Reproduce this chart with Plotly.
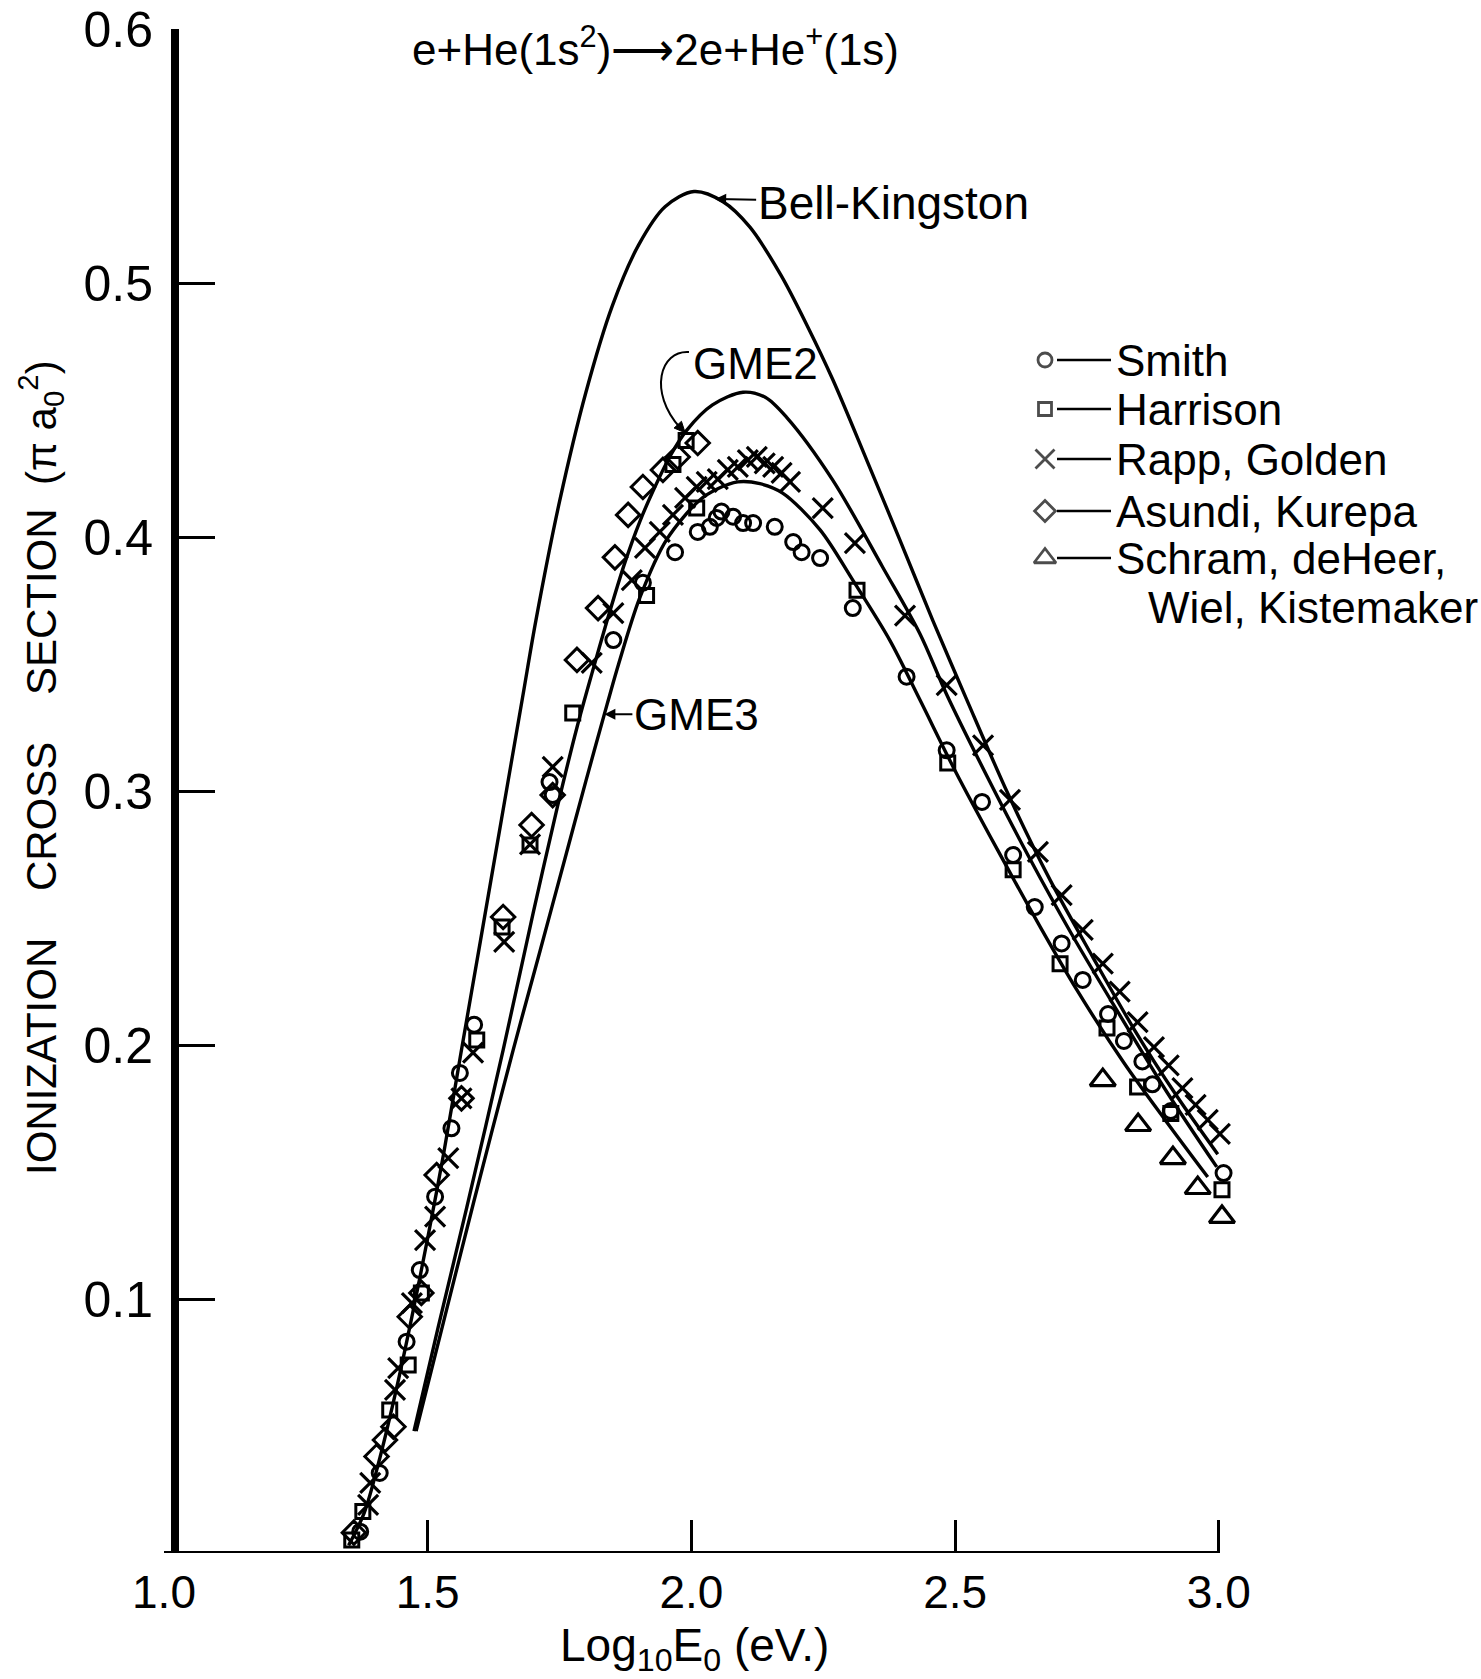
import numpy as np
import plotly.graph_objects as go

# ---------------- theory curves (log10 E0, cross section in pi a0^2) ----------------
bk_x = [1.350, 1.380, 1.410, 1.440, 1.470, 1.500, 1.530, 1.564, 1.600, 1.640, 1.680, 1.705,
        1.750, 1.800, 1.850, 1.900, 1.950, 2.005, 2.060, 2.111, 2.170, 2.220, 2.268, 2.333,
        2.395, 2.458, 2.522, 2.600, 2.680, 2.760, 2.840, 2.920, 2.998]
bk_y = [0.003, 0.016, 0.038, 0.064, 0.093, 0.124, 0.157, 0.198, 0.241, 0.289, 0.337, 0.367,
        0.414, 0.457, 0.491, 0.515, 0.530, 0.536, 0.532, 0.522, 0.503, 0.483, 0.462, 0.430,
        0.399, 0.367, 0.336, 0.299, 0.265, 0.235, 0.206, 0.180, 0.157]

gme2_x = [1.474, 1.520, 1.574, 1.643, 1.700, 1.745, 1.783, 1.811, 1.840, 1.874, 1.902, 1.927,
          1.960, 1.991, 2.040, 2.098, 2.140, 2.181, 2.268, 2.363, 2.433, 2.484, 2.560, 2.640,
          2.720, 2.800, 2.900, 2.996]
gme2_y = [0.048, 0.089, 0.136, 0.198, 0.252, 0.293, 0.325, 0.346, 0.367, 0.390, 0.406, 0.418,
          0.432, 0.442, 0.452, 0.457, 0.455, 0.447, 0.4224, 0.388, 0.362, 0.338, 0.306, 0.274,
          0.244, 0.216, 0.182, 0.152]

gme3_x = [1.478, 1.530, 1.587, 1.662, 1.713, 1.763, 1.800, 1.840, 1.862, 1.902, 1.953, 2.016,
          2.050, 2.088, 2.130, 2.173, 2.244, 2.306, 2.376, 2.433, 2.500, 2.580, 2.660, 2.730,
          2.820, 2.900, 2.979]
gme3_y = [0.048, 0.091, 0.138, 0.198, 0.237, 0.2755, 0.304, 0.334, 0.350, 0.376, 0.399, 0.4146,
          0.419, 0.4217, 0.421, 0.4173, 0.4028, 0.383, 0.3594, 0.336, 0.308, 0.277, 0.247, 0.222,
          0.193, 0.170, 0.148]

# ---------------- experimental data ----------------
smith_x = [1.372, 1.409, 1.460, 1.485, 1.514, 1.545, 1.561, 1.588, 1.731, 1.737, 1.852, 1.908,
           1.969, 2.012, 2.035, 2.048, 2.057, 2.079, 2.098, 2.117, 2.158, 2.193, 2.209, 2.244,
           2.306, 2.408, 2.484, 2.551, 2.610, 2.651, 2.702, 2.742, 2.790, 2.820, 2.855, 2.874,
           2.909, 3.009]
smith_y = [0.0084, 0.0315, 0.0832, 0.1114, 0.1403, 0.1672, 0.189, 0.208, 0.3035, 0.2984, 0.3594, 0.382,
           0.394, 0.402, 0.404, 0.4075, 0.410, 0.408, 0.4055, 0.4055, 0.404, 0.398, 0.394, 0.3917,
           0.372, 0.345, 0.316, 0.2957, 0.2748, 0.2543, 0.240, 0.2256, 0.2122, 0.2016, 0.1935, 0.1845,
           0.1740, 0.1496]

harrison_x = [1.356, 1.377, 1.428, 1.463, 1.488, 1.593, 1.641, 1.694, 1.775, 1.915, 1.965, 1.990,
              2.010, 2.314, 2.486, 2.610, 2.699, 2.788, 2.846, 2.909, 3.006]
harrison_y = [0.0051, 0.0163, 0.0563, 0.074, 0.1024, 0.202, 0.2465, 0.2787, 0.3307, 0.377, 0.4285, 0.438,
              0.4114, 0.379, 0.311, 0.269, 0.232, 0.2067, 0.1835, 0.173, 0.143]

rapp_x = [1.387, 1.391, 1.438, 1.444, 1.470, 1.495, 1.514, 1.539, 1.564, 1.586, 1.645, 1.694,
          1.737, 1.811, 1.852, 1.887, 1.912, 1.940, 1.965, 1.988, 2.010, 2.029, 2.050, 2.069,
          2.088, 2.107, 2.124, 2.139, 2.155, 2.171, 2.187, 2.249, 2.310, 2.405, 2.484, 2.553,
          2.604, 2.657, 2.702, 2.742, 2.780, 2.812, 2.846, 2.877, 2.905, 2.931, 2.956, 2.979, 3.002]
rapp_y = [0.0189, 0.0276, 0.0642, 0.0728, 0.0984, 0.1232, 0.1324, 0.1555, 0.179, 0.197, 0.2406, 0.279,
          0.3095, 0.3504, 0.370, 0.383, 0.3957, 0.402, 0.4087, 0.4154, 0.4197, 0.4217, 0.4228, 0.4264,
          0.4276, 0.4303, 0.4315, 0.429, 0.4276, 0.4252, 0.4217, 0.4114, 0.3976, 0.369, 0.3417, 0.318,
          0.2965, 0.276, 0.259, 0.2453, 0.232, 0.221, 0.209, 0.1992, 0.192, 0.183, 0.1764, 0.1705, 0.165]

asundi_x = [1.360, 1.403, 1.419, 1.435, 1.466, 1.488, 1.517, 1.564, 1.643, 1.697, 1.737, 1.783,
            1.823, 1.855, 1.880, 1.908, 1.946, 1.974, 2.012]
asundi_y = [0.008, 0.038, 0.0445, 0.0497, 0.093, 0.1024, 0.1488, 0.179, 0.2504, 0.2866, 0.2984, 0.3516,
            0.372, 0.392, 0.4087, 0.4197, 0.4264, 0.4315, 0.437]

schram_x = [2.780, 2.847, 2.913, 2.960, 3.006]
schram_y = [0.1862, 0.1685, 0.1555, 0.1437, 0.1323]

x_ticks = [1.0, 1.5, 2.0, 2.5, 3.0]
x_ticktext = ["1.0", "1.5", "2.0", "2.5", "3.0"]
y_ticks = [0.1, 0.2, 0.3, 0.4, 0.5, 0.6]
y_ticktext = ["0.1", "0.2", "0.3", "0.4", "0.5", "0.6"]

legend_names = ["Smith", "Harrison", "Rapp, Golden", "Asundi, Kurepa", "Schram, deHeer,"]
legend_symbols = ["circle-open", "square-open", "x-thin-open", "diamond-open", "triangle-up-open"]

# ---------------- layout geometry (pixels) ----------------
W, H = 1481, 1679
X0, X1 = 1.0, 3.025          # axis range (3.0 sits at pixel 1219)
Y0, Y1 = 0.0, 0.6
PXU = 527.5                  # pixels per x unit
L, T, B = 164, 29, 126
R = int(round(W - (L + (X1 - X0) * PXU)))
PW, PH = W - L - R, H - T - B
FONT = "Liberation Sans, Arial, sans-serif"
INK = "black"


def px(xp):
    return (xp - L) / PW


def py(yp):
    return (H - B - yp) / PH


fig = go.Figure()

for cx, cy in [(bk_x, bk_y), (gme2_x, gme2_y), (gme3_x, gme3_y)]:
    fig.add_trace(go.Scatter(x=cx, y=cy, mode="lines",
                             line=dict(color=INK, width=3.4, shape="spline", smoothing=0.9),
                             showlegend=False, hoverinfo="skip", cliponaxis=False))


def add_pts(xs, ys, sym, size, lw):
    fig.add_trace(go.Scatter(x=xs, y=ys, mode="markers", showlegend=False, cliponaxis=False,
                             marker=dict(symbol=sym, size=size, color=INK,
                                         line=dict(color=INK, width=lw))))


add_pts(smith_x, smith_y, "circle-open", 15, 3.0)
add_pts(harrison_x, harrison_y, "square-open", 14, 3.0)
add_pts(rapp_x, rapp_y, "x-thin-open", 20, 3.2)
add_pts(asundi_x, asundi_y, "diamond-open", 18, 3.0)
add_pts(schram_x, schram_y, "triangle-up-open", 22, 3.2)

# legend samples drawn in a pixel-space overlay axis
leg_mx = 1045
leg_rows = [360, 409, 459, 511, 558]
fig.add_trace(go.Scatter(x=[leg_mx] * 5, y=leg_rows, xaxis="x2", yaxis="y2", mode="markers",
                         showlegend=False, cliponaxis=False,
                         marker=dict(symbol=legend_symbols, size=[14, 13, 19, 16, 19], color=INK,
                                     line=dict(color=INK, width=2.8))))

annotations = []
shapes = []
for name, yy in zip(legend_names, leg_rows):
    shapes.append(dict(type="line", xref="paper", yref="paper", x0=px(1057), x1=px(1111),
                       y0=py(yy), y1=py(yy), line=dict(color=INK, width=2.5)))
    annotations.append(dict(xref="paper", yref="paper", x=px(1114), y=py(yy), text=name,
                            showarrow=False, xanchor="left", yanchor="middle",
                            font=dict(family=FONT, size=44, color=INK)))
annotations.append(dict(xref="paper", yref="paper", x=px(1146), y=py(607), text="Wiel, Kistemaker",
                        showarrow=False, xanchor="left", yanchor="middle",
                        font=dict(family=FONT, size=44, color=INK)))

# x axis line drawn only from 1.0 to 3.0
shapes.append(dict(type="line", xref="x", yref="y", x0=1.0, x1=3.0, y0=0, y1=0,
                   line=dict(color=INK, width=4)))

# title and axis titles
annotations.append(dict(xref="paper", yref="paper", x=px(655), y=py(46),
                        text="e+He(1s<sup>2</sup>)\u27f62e+He<sup>+</sup>(1s)",
                        showarrow=False, xanchor="center", yanchor="middle",
                        font=dict(family=FONT, size=44, color=INK)))
annotations.append(dict(xref="paper", yref="paper", x=px(40), y=py(768), textangle=-90,
                        text="IONIZATION\u00a0\u00a0\u00a0 CROSS\u00a0\u00a0\u00a0 SECTION\u00a0 (\u03c0 a<sub>0</sub><sup>2</sup>)",
                        showarrow=False, xanchor="center", yanchor="middle",
                        font=dict(family=FONT, size=42, color=INK)))
annotations.append(dict(xref="paper", yref="paper", x=px(694), y=py(1648),
                        text="Log<sub>10</sub>E<sub>0</sub> (eV.)",
                        showarrow=False, xanchor="center", yanchor="middle",
                        font=dict(family=FONT, size=46, color=INK)))


# curve labels with arrows (tips placed on the curves)
def lab(text, cx, cy, xt, ax, ay, size):
    annotations.append(dict(x=xt, y=float(np.interp(xt, cx, cy)), xref="x", yref="y", text=text,
                            showarrow=True, arrowhead=2, arrowsize=1.1, arrowwidth=2, arrowcolor=INK,
                            ax=ax, ay=ay, standoff=0, font=dict(family=FONT, size=size, color=INK)))


lab("Bell-Kingston", bk_x, bk_y, 2.045, 178, 4, 46)
lab("GME3", gme3_x, gme3_y, 1.835, 92, 0, 44)

# GME2: label with a curved pointer ending on the GME2 curve
g2x = 1.988
g2y = float(np.interp(g2x, gme2_x, gme2_y))
tip_x = L + (g2x - X0) * PXU
tip_y = (H - B) - (g2y - Y0) / (Y1 - Y0) * PH
annotations.append(dict(xref="paper", yref="paper", x=px(691), y=py(364), text="GME2",
                        showarrow=False, xanchor="left", yanchor="middle",
                        font=dict(family=FONT, size=44, color=INK)))
sx, sy = 689, 352
c1 = (660, 350)
c2 = (648, 392)
e = (tip_x - 5, tip_y - 5)
shapes.append(dict(type="path", xref="paper", yref="paper",
                   path=(f"M {px(sx)},{py(sy)} C {px(c1[0])},{py(c1[1])} {px(c2[0])},{py(c2[1])} "
                         f"{px(e[0])},{py(e[1])}"),
                   line=dict(color=INK, width=2)))
d = np.array([tip_x - c2[0], tip_y - c2[1]], dtype=float)
d /= np.linalg.norm(d)
nrm = np.array([-d[1], d[0]])
base = np.array([tip_x, tip_y]) - 11 * d
p1 = base + 5 * nrm
p2 = base - 5 * nrm
shapes.append(dict(type="path", xref="paper", yref="paper",
                   path=(f"M {px(tip_x)},{py(tip_y)} L {px(p1[0])},{py(p1[1])} "
                         f"L {px(p2[0])},{py(p2[1])} Z"),
                   fillcolor=INK, line=dict(color=INK, width=1)))

fig.update_layout(
    width=W, height=H, margin=dict(l=L, r=R, t=T, b=B, pad=0, autoexpand=False),
    paper_bgcolor="white", plot_bgcolor="white", showlegend=False,
    annotations=annotations, shapes=shapes,
    xaxis=dict(range=[X0, X1], domain=[0, 1], anchor="y", showgrid=False, zeroline=False,
               showline=False, ticks="inside", ticklen=33, tickwidth=3, automargin=False,
               tickcolor=INK, tickvals=x_ticks, ticktext=x_ticktext, ticklabelstandoff=8,
               tickfont=dict(family=FONT, size=46, color=INK)),
    yaxis=dict(range=[Y0, Y1], anchor="free", position=11 / PW, showgrid=False, zeroline=False,
               showline=True, linecolor=INK, linewidth=8, ticks="inside", ticklen=36, tickwidth=3,
               tickcolor=INK, tickvals=y_ticks, ticktext=y_ticktext, ticklabelstandoff=8,
               automargin=False, tickfont=dict(family=FONT, size=50, color=INK)),
    xaxis2=dict(overlaying="x", range=[L, W - R], visible=False, anchor="y2", automargin=False),
    yaxis2=dict(overlaying="y", range=[H - B, T], visible=False, anchor="x2", automargin=False),
)

fig.write_html("out.html")
